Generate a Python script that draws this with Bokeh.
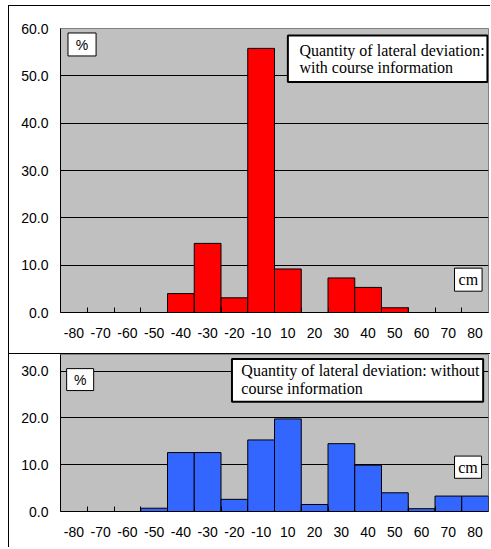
from bokeh.plotting import figure
from bokeh.models import Range1d, FixedTicker, NumeralTickFormatter, Label, BoxAnnotation, ColumnDataSource
from bokeh.layouts import column
from bokeh.embed import file_html
from bokeh.resources import INLINE

bins = ["-80", "-70", "-60", "-50", "-40", "-30", "-20", "-10",
        "10", "20", "30", "40", "50", "60", "70", "80"]
with_info = [0, 0, 0, 0, 4.0, 14.6, 3.1, 55.8, 9.2, 0, 7.3, 5.3, 1.0, 0, 0, 0]
without_info = [0, 0, 0, 0.7, 12.6, 12.6, 2.6, 15.3, 19.8, 1.5, 14.5, 9.9, 4.0, 0.6, 3.3, 3.3]
yticks_top = [0, 10, 20, 30, 40, 50, 60]
yticks_bottom = [0, 10, 20, 30]
title_top = ["Quantity of lateral deviation:", "with course information"]
title_bottom = ["Quantity of lateral deviation: without", "course information"]

centers = [i + 0.5 for i in range(len(bins))]
bounds = [i for i in range(1, len(bins))]

SANS = "Liberation Sans"
SERIF = "Liberation Serif"


def make_fig(values, color, height, ymax, yticks, top, bottom, margin):
    src = ColumnDataSource(dict(x=centers, top=values, label=bins))
    p = figure(width=482, height=height, x_range=Range1d(0, len(bins)), y_range=Range1d(0, ymax),
               output_backend="svg", toolbar_location=None,
               min_border_left=51, min_border_right=3, min_border_top=top, min_border_bottom=bottom,
               background_fill_color="#C0C0C0", border_fill_color="white",
               outline_line_color="#808080", margin=margin,
               styles={"border-top": "1px solid black", "border-left": "1px solid black"})
    p.vbar(x="x", top="top", width=1.0, bottom=0, source=src, fill_color=color,
           line_color="black", line_width=1)
    p.xgrid.visible = False
    p.ygrid.grid_line_color = "black"
    p.ygrid.grid_line_width = 1
    p.yaxis.ticker = FixedTicker(ticks=yticks)
    p.yaxis.formatter = NumeralTickFormatter(format="0.0")
    p.yaxis.major_tick_in = 0
    p.yaxis.major_tick_out = 0
    p.yaxis.minor_tick_line_color = None
    p.yaxis.major_label_standoff = 12
    p.xaxis.ticker = FixedTicker(ticks=centers, minor_ticks=bounds)
    p.xaxis.major_label_overrides = {c: b for c, b in zip(centers, bins)}
    p.xaxis.major_tick_in = 0
    p.xaxis.major_tick_out = 0
    p.xaxis.minor_tick_in = 5
    p.xaxis.minor_tick_out = 0
    p.xaxis.minor_tick_line_color = "black"
    p.xaxis.major_label_standoff = 15
    for ax in (p.xaxis, p.yaxis):
        ax.axis_line_color = "black"
        ax.axis_line_width = 1
        ax.major_label_text_font = SANS
        ax.major_label_text_font_size = "14px"
        ax.major_label_text_color = "black"
    return p


def add_box(p, l, r, t, b, lw):
    p.add_layout(BoxAnnotation(left=l, right=r, top=t, bottom=b, fill_color="white", fill_alpha=1.0,
                               line_color="black", line_width=lw, line_alpha=1.0))


def add_text(p, x, y, text, font, size, align="left"):
    p.add_layout(Label(x=x, y=y, text=text, text_font=font, text_font_size=size,
                       text_baseline="middle", text_align=align, text_color="black"))


p1 = make_fig(with_info, "#FF0000", 348, 60, yticks_top, 22, 42, (5, 0, 0, 8))
add_box(p1, 0.28, 1.33, 59.05, 54.2, 1)
add_text(p1, 0.805, 56.6, "%", SANS, "14px", "center")
add_box(p1, 8.50, 15.96, 58.5, 48.7, 2)
add_text(p1, 8.93, 55.45, title_top[0], SERIF, "16px")
add_text(p1, 8.93, 51.8, title_top[1], SERIF, "16px")
add_box(p1, 14.73, 15.76, 9.37, 4.5, 1)
add_text(p1, 15.245, 6.93, "cm", SERIF, "16px", "center")

p2 = make_fig(without_info, "#3366FF", 194, 33.57, yticks_bottom, 0, 37, (0, 0, 0, 8))
add_box(p2, 0.23, 1.24, 30.55, 25.86, 1)
add_text(p2, 0.735, 28.2, "%", SANS, "14px", "center")
add_box(p2, 6.41, 15.80, 32.6, 23.45, 2)
add_text(p2, 6.76, 30.13, title_bottom[0], SERIF, "16px")
add_text(p2, 6.76, 26.3, title_bottom[1], SERIF, "16px")
add_box(p2, 14.73, 15.74, 11.85, 7.1, 1)
add_text(p2, 15.235, 9.49, "cm", SERIF, "16px", "center")

layout = column(p1, p2, spacing=0)
open("out.html", "w").write(file_html(layout, INLINE))
